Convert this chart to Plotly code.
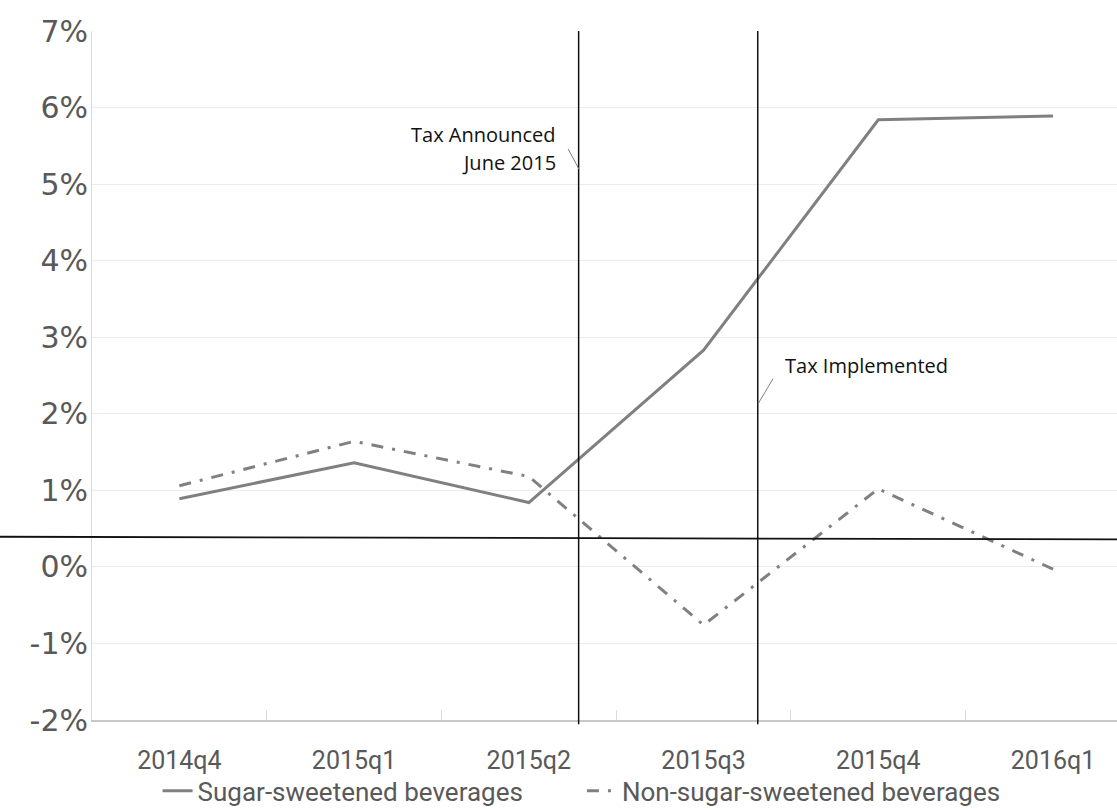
import plotly.graph_objects as go

# Quarterly price change (%) by beverage group
quarters = ["2014q4", "2015q1", "2015q2", "2015q3", "2015q4", "2016q1"]
ssb_change = [0.89, 1.36, 0.84, 2.83, 5.84, 5.89]
non_ssb_change = [1.06, 1.64, 1.18, -0.76, 1.02, -0.03]
series_names = ["Sugar-sweetened beverages", "Non-sugar-sweetened beverages"]

y_ticks = [-2, -1, 0, 1, 2, 3, 4, 5, 6, 7]
y_tick_labels = ["-2%", "-1%", "0%", "1%", "2%", "3%", "4%", "5%", "6%", "7%"]

GREY = "#808080"
TICK_COLOR = "#595959"
legend_font = dict(family="Roboto", size=26, color=TICK_COLOR)

fig = go.Figure()

fig.add_trace(go.Scatter(
    x=quarters, y=ssb_change, mode="lines", name=series_names[0],
    line=dict(color=GREY, width=3), legend="legend",
))
fig.add_trace(go.Scatter(
    x=quarters, y=non_ssb_change, mode="lines", name=series_names[1],
    line=dict(color=GREY, width=3, dash="12px,9px,3px,9px"), legend="legend2",
))

# Event markers: tax announcement and implementation
for xv in (2.285, 3.31):
    fig.add_shape(type="line", xref="x", yref="paper",
                  x0=xv, x1=xv, y0=-0.006, y1=1,
                  line=dict(color="#111111", width=1.5))

# Reference line across the chart
fig.add_shape(type="line", xref="paper", yref="y",
              x0=-0.0898, x1=1, y0=0.394, y1=0.359,
              line=dict(color="#111111", width=1.8))

# Leader lines for the event labels
fig.add_shape(type="line", xref="x", yref="y",
              x0=2.225, y0=5.46, x1=2.288, y1=5.19,
              line=dict(color=GREY, width=1))
fig.add_shape(type="line", xref="x", yref="y",
              x0=3.398, y0=2.46, x1=3.312, y1=2.13,
              line=dict(color=GREY, width=1))

label_font = dict(family="Open Sans", size=20, color="#111111")
fig.add_annotation(x=2.165, y=5.65, xref="x", yref="y", text="Tax Announced",
                   showarrow=False, xanchor="right", yanchor="middle", font=label_font)
fig.add_annotation(x=2.165, y=5.28, xref="x", yref="y", text="June 2015",
                   showarrow=False, xanchor="right", yanchor="middle", font=label_font)
fig.add_annotation(x=3.455, y=2.63, xref="x", yref="y", text="Tax Implemented",
                   showarrow=False, xanchor="left", yanchor="middle", font=label_font)

fig.update_layout(
    width=1117, height=810,
    margin=dict(l=92, r=0, t=31, b=90, autoexpand=False),
    paper_bgcolor="white", plot_bgcolor="white",
    showlegend=True,
    legend=dict(orientation="h", x=0.064, xanchor="left", y=-0.103, yanchor="middle",
                font=legend_font, bgcolor="rgba(0,0,0,0)"),
    legend2=dict(orientation="h", x=0.478, xanchor="left", y=-0.103, yanchor="middle",
                 font=legend_font, bgcolor="rgba(0,0,0,0)"),
    xaxis=dict(
        type="category", range=[-0.5, 5.366],
        tickfont=dict(family="Roboto", size=25, color=TICK_COLOR),
        showgrid=False, showline=True, linecolor="#c8c8c8", linewidth=1.5,
        ticks="inside", tickson="boundaries", ticklen=10, tickcolor="#d9d9d9",
        ticklabelstandoff=17,
    ),
    yaxis=dict(
        range=[-2, 7], tickvals=y_ticks, ticktext=y_tick_labels,
        tickfont=dict(family="DejaVu Sans", size=30, color=TICK_COLOR),
        showgrid=True, gridcolor="#ececec", gridwidth=1,
        showline=True, linecolor="#d9d9d9", linewidth=1,
        zeroline=False, ticks="", ticklabelstandoff=-3,
    ),
)

fig.write_html("out.html")
